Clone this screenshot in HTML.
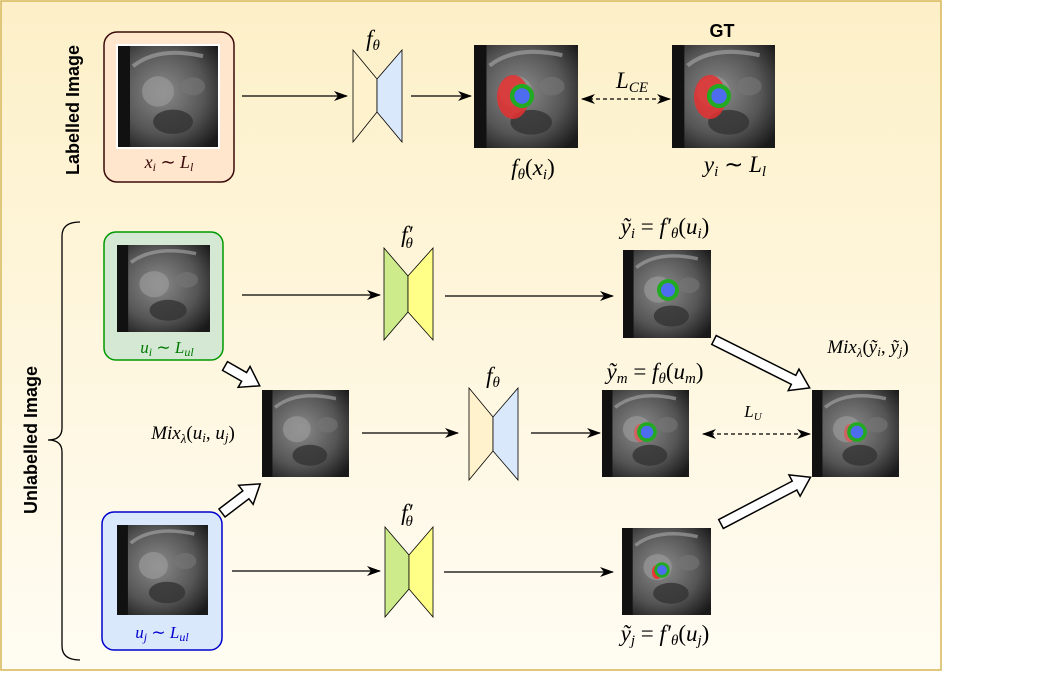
<!DOCTYPE html>
<html><head><meta charset="utf-8"><style>
body{margin:0;background:#fff;width:1043px;height:672px;overflow:hidden}
svg text{font-family:"Liberation Serif",serif;font-style:italic}
</style></head><body>
<svg width="1043" height="672" viewBox="0 0 1043 672" xmlns="http://www.w3.org/2000/svg">
<defs>
<linearGradient id="bg" x1="0" y1="0" x2="0" y2="1"><stop offset="0" stop-color="#fdf0c8"/><stop offset="1" stop-color="#fffcf3"/></linearGradient>
<radialGradient id="mg" cx="0.45" cy="0.45" r="0.7"><stop offset="0" stop-color="#8a8a8a"/><stop offset="0.6" stop-color="#555"/><stop offset="1" stop-color="#1a1a1a"/></radialGradient>
<marker id="ah" markerWidth="14" markerHeight="12" refX="13" refY="6" orient="auto" markerUnits="userSpaceOnUse"><path d="M0,1 L14,6 L0,11 L4,6z" fill="#000"/></marker>
<marker id="ahs" markerWidth="14" markerHeight="12" refX="1" refY="6" orient="auto" markerUnits="userSpaceOnUse"><path d="M14,1 L0,6 L14,11 L10,6z" fill="#000"/></marker>
<g id="mri">
<rect x="0" y="0" width="100" height="100" fill="url(#mg)"/>
<rect x="0" y="0" width="12" height="100" fill="#111"/>
<ellipse cx="40" cy="45" rx="16" ry="15" fill="#999" opacity="0.7"/>
<ellipse cx="55" cy="75" rx="20" ry="12" fill="#333" opacity="0.8"/>
<ellipse cx="75" cy="40" rx="12" ry="9" fill="#777" opacity="0.6"/>
<path d="M15,20 Q40,0 85,10" stroke="#aaa" stroke-width="4" fill="none" opacity="0.6"/>
</g>
<g id="seg"><ellipse cx="0" cy="0" rx="11" ry="11" fill="#22aa22"/><ellipse cx="0" cy="0" rx="7" ry="7" fill="#4d6cf0"/></g>
</defs>
<rect x="1" y="1" width="940" height="669" fill="url(#bg)" stroke="#d6b656" stroke-width="1.5"/>

<!-- Labelled row -->
<text transform="translate(79,110) rotate(-90)" text-anchor="middle" style="font-family:'Liberation Sans',sans-serif;font-style:normal;font-weight:bold;font-size:18px">Labelled Image</text>
<rect x="104" y="32" width="130" height="150" rx="13" fill="#ffe6cc" stroke="#3a0a0a" stroke-width="1.5"/>
<rect x="116" y="44" width="104" height="105" fill="#fff"/>
<use href="#mri" transform="translate(118,46) scale(1,1.01)"/>
<text x="169" y="168" text-anchor="middle" font-size="18" fill="#3a0a0a">x<tspan font-size="12" dy="3">i</tspan><tspan dy="-3" font-style="normal"> ∼ </tspan>L<tspan font-size="12" dy="3">l</tspan></text>
<line x1="242" y1="96" x2="347" y2="96" stroke="#000" stroke-width="1.2" marker-end="url(#ah)"/>
<text x="373" y="46" text-anchor="middle" font-size="23">f<tspan font-size="15" dy="4">θ</tspan></text>
<polygon points="353,50 377,79 377,112 353,142" fill="#fff2cc" stroke="#000" stroke-width="0.8"/>
<polygon points="402,50 377,79 377,112 402,142" fill="#dae8fc" stroke="#000" stroke-width="0.8"/>
<line x1="411" y1="96" x2="471" y2="96" stroke="#000" stroke-width="1.2" marker-end="url(#ah)"/>
<use href="#mri" transform="translate(474,45) scale(1.04,1.03)"/>
<ellipse cx="513" cy="97" rx="16" ry="22" fill="#e53030" opacity="0.85"/>
<use href="#seg" transform="translate(522,96) scale(1.1)"/>
<text x="533" y="175" text-anchor="middle" font-size="23">f<tspan font-size="15" dy="4">θ</tspan><tspan dy="-4" font-style="normal">(</tspan>x<tspan font-size="15" dy="4">i</tspan><tspan dy="-4" font-style="normal">)</tspan></text>
<line x1="582" y1="99" x2="670" y2="99" stroke="#000" stroke-width="1.2" stroke-dasharray="4,3" marker-start="url(#ahs)" marker-end="url(#ah)"/>
<text x="632" y="88" text-anchor="middle" font-size="23">L<tspan font-size="15" dy="4">CE</tspan></text>
<text x="722" y="37" text-anchor="middle" style="font-family:'Liberation Sans',sans-serif;font-style:normal;font-weight:bold;font-size:18px">GT</text>
<use href="#mri" transform="translate(672,45) scale(1.03,1.03)"/>
<ellipse cx="710" cy="97" rx="16" ry="22" fill="#e53030" opacity="0.85"/>
<use href="#seg" transform="translate(719,96) scale(1.1)"/>
<text x="735" y="172" text-anchor="middle" font-size="23">y<tspan font-size="15" dy="4">i</tspan><tspan dy="-4" font-style="normal"> ∼ </tspan>L<tspan font-size="15" dy="4">l</tspan></text>

<!-- Unlabelled -->
<path d="M80,222 Q62,222 62,236 L62,428 Q62,440 48,440 Q62,440 62,452 L62,646 Q62,660 80,660" fill="none" stroke="#000" stroke-width="1.3"/>
<text transform="translate(37,440) rotate(-90)" text-anchor="middle" style="font-family:'Liberation Sans',sans-serif;font-style:normal;font-weight:bold;font-size:18px">Unlabelled Image</text>

<rect x="104" y="232" width="119" height="128" rx="12" fill="#d5e8d4" stroke="#009900" stroke-width="1.5"/>
<use href="#mri" transform="translate(117,245) scale(0.93,0.87)"/>
<text x="167" y="353" text-anchor="middle" font-size="17" fill="#007a00">u<tspan font-size="12" dy="3">i</tspan><tspan dy="-3" font-style="normal"> ∼ </tspan>L<tspan font-size="12" dy="3">ul</tspan></text>
<line x1="242" y1="295" x2="380" y2="295" stroke="#000" stroke-width="1.2" marker-end="url(#ah)"/>
<text x="407" y="242" text-anchor="middle" font-size="23">f′<tspan font-size="15" dy="6" dx="-7">θ</tspan></text>
<polygon points="384,248 408,276 408,312 384,340" fill="#cdeb8b" stroke="#000" stroke-width="0.8"/>
<polygon points="433,248 408,276 408,312 433,340" fill="#ffff88" stroke="#000" stroke-width="0.8"/>
<line x1="445" y1="296" x2="613" y2="296" stroke="#000" stroke-width="1.2" marker-end="url(#ah)"/>
<use href="#mri" transform="translate(623,250) scale(0.88,0.88)"/>
<use href="#seg" transform="translate(668,290)"/>
<text x="665" y="234" text-anchor="middle" font-size="23">ỹ<tspan font-size="15" dy="4">i</tspan><tspan dy="-4" font-style="normal"> = </tspan>f′<tspan font-size="15" dy="4">θ</tspan><tspan dy="-4" font-style="normal">(</tspan>u<tspan font-size="15" dy="4">i</tspan><tspan dy="-4" font-style="normal">)</tspan></text>

<text x="193" y="439" text-anchor="middle" font-size="19">Mix<tspan font-size="13" dy="4">λ</tspan><tspan dy="-4" font-style="normal">(</tspan>u<tspan font-size="13" dy="3">i</tspan><tspan dy="-3" font-style="normal">, </tspan>u<tspan font-size="13" dy="3">j</tspan><tspan dy="-3" font-style="normal">)</tspan></text>
<use href="#mri" transform="translate(262,390) scale(0.87,0.87)"/>
<line x1="362" y1="433" x2="458" y2="433" stroke="#000" stroke-width="1.2" marker-end="url(#ah)"/>
<text x="493" y="383" text-anchor="middle" font-size="23">f<tspan font-size="15" dy="4">θ</tspan></text>
<polygon points="469,388 493,417 493,451 469,480" fill="#fff2cc" stroke="#000" stroke-width="0.8"/>
<polygon points="518,388 493,417 493,451 518,480" fill="#dae8fc" stroke="#000" stroke-width="0.8"/>
<line x1="531" y1="433" x2="600" y2="433" stroke="#000" stroke-width="1.2" marker-end="url(#ah)"/>
<use href="#mri" transform="translate(602,390) scale(0.87,0.87)"/>
<ellipse cx="640" cy="433" rx="6" ry="9" fill="#d55" opacity="0.8"/>
<use href="#seg" transform="translate(647,432) scale(0.9)"/>
<text x="655" y="379" text-anchor="middle" font-size="23">ỹ<tspan font-size="15" dy="4">m</tspan><tspan dy="-4" font-style="normal"> = </tspan>f<tspan font-size="15" dy="4">θ</tspan><tspan dy="-4" font-style="normal">(</tspan>u<tspan font-size="15" dy="4">m</tspan><tspan dy="-4" font-style="normal">)</tspan></text>
<line x1="703" y1="434" x2="810" y2="434" stroke="#000" stroke-width="1.2" stroke-dasharray="4,3" marker-start="url(#ahs)" marker-end="url(#ah)"/>
<text x="753" y="417" text-anchor="middle" font-size="17">L<tspan font-size="11" dy="3">U</tspan></text>
<use href="#mri" transform="translate(812,390) scale(0.87,0.87)"/>
<ellipse cx="850" cy="433" rx="6" ry="9" fill="#d55" opacity="0.8"/>
<use href="#seg" transform="translate(857,432) scale(0.9)"/>
<text x="868" y="353" text-anchor="middle" font-size="19">Mix<tspan font-size="13" dy="4">λ</tspan><tspan dy="-4" font-style="normal">(</tspan>ỹ<tspan font-size="13" dy="3">i</tspan><tspan dy="-3" font-style="normal">, </tspan>ỹ<tspan font-size="13" dy="3">j</tspan><tspan dy="-3" font-style="normal">)</tspan></text>

<rect x="102" y="512" width="120" height="138" rx="12" fill="#dae8fc" stroke="#0000cc" stroke-width="1.5"/>
<use href="#mri" transform="translate(117,525) scale(0.91,0.9)"/>
<text x="162" y="638" text-anchor="middle" font-size="17" fill="#0000cc">u<tspan font-size="12" dy="3">j</tspan><tspan dy="-3" font-style="normal"> ∼ </tspan>L<tspan font-size="12" dy="3">ul</tspan></text>
<line x1="232" y1="571" x2="380" y2="571" stroke="#000" stroke-width="1.2" marker-end="url(#ah)"/>
<text x="407" y="520" text-anchor="middle" font-size="23">f′<tspan font-size="15" dy="6" dx="-7">θ</tspan></text>
<polygon points="385,527 409,555 409,589 385,617" fill="#cdeb8b" stroke="#000" stroke-width="0.8"/>
<polygon points="433,527 409,555 409,589 433,617" fill="#ffff88" stroke="#000" stroke-width="0.8"/>
<line x1="444" y1="572" x2="613" y2="572" stroke="#000" stroke-width="1.2" marker-end="url(#ah)"/>
<use href="#mri" transform="translate(622,528) scale(0.89,0.87)"/>
<ellipse cx="657" cy="572" rx="5" ry="7" fill="#e33"/>
<use href="#seg" transform="translate(662,570) scale(0.7)"/>
<text x="665" y="641" text-anchor="middle" font-size="23">ỹ<tspan font-size="15" dy="4">j</tspan><tspan dy="-4" font-style="normal"> = </tspan>f′<tspan font-size="15" dy="4">θ</tspan><tspan dy="-4" font-style="normal">(</tspan>u<tspan font-size="15" dy="4">j</tspan><tspan dy="-4" font-style="normal">)</tspan></text>

<!-- block arrows -->
<g fill="#fff" stroke="#000" stroke-width="1.5">
<polygon transform="translate(225,366) rotate(29.7)" points="0,-5 22,-5 22,-12 40,0 22,12 22,5 0,5"/>
<polygon transform="translate(222,513) rotate(-37.3)" points="0,-5 30,-5 30,-12 48,0 30,12 30,5 0,5"/>
<polygon transform="translate(714,340) rotate(26.6)" points="0,-5 89,-5 89,-12 107,0 89,12 89,5 0,5"/>
<polygon transform="translate(721,524) rotate(-27.6)" points="0,-5 83,-5 83,-12 101,0 83,12 83,5 0,5"/>
</g>
</svg>
</body></html>
